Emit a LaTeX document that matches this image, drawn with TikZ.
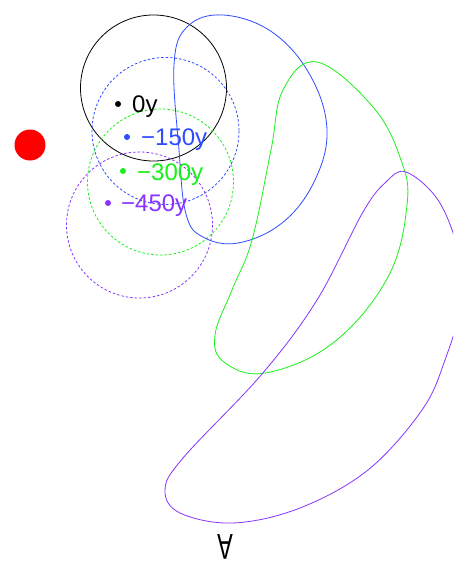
\documentclass[tikz,border=0pt]{standalone}
\usepackage{fontspec}
\setmainfont{Liberation Sans}
\definecolor{cblue}{RGB}{45,75,255}
\definecolor{cgreen}{RGB}{25,240,25}
\definecolor{cpurple}{RGB}{136,51,255}
\begin{document}
\begin{tikzpicture}[x=1pt,y=-1pt,
  orbit/.style={line width=0.8pt},
  halo/.style={line width=0.8pt,dash pattern=on 2.5pt off 2pt},
  dotmark/.style={circle,fill,inner sep=0pt,minimum size=6pt},
  lbl/.style={anchor=base west,inner sep=0pt,font=\fontsize{24}{26}\selectfont}]
\useasboundingbox (0,0) rectangle (453,565);
\clip (0,0) rectangle (453,565);
% circles
\draw[orbit,black] (153.5,88) circle (73);
\draw[halo,cblue] (165.5,131) circle (73.5);
\draw[halo,cgreen] (160.5,182) circle (73);
\draw[halo,cpurple] (139.5,225) circle (73);
% closed curves
\draw[orbit,cblue] plot[smooth cycle,tension=0.65] coordinates {
 (223,15) (272,32) (310,75) (327,130) (314,182) (282,223) (238,243) (203,237) (186,214) (179,150) (174,65) (187,27)};
\draw[orbit,cgreen] plot[smooth cycle,tension=0.65] coordinates {
 (317,62) (373,107) (401,160) (407,205) (388,277) (333,343) (265,373) (224,362) (215,335) (232,290) (252,240) (271,150) (283,90)};
\draw[orbit,cpurple] plot[smooth cycle,tension=0.6] coordinates {
 (406,172) (438,200) (458,250) (462,300) (445,360) (422,410) (368,470) (300,508) (233,523) (180,513) (165,490) (183,458) (262,374) (317,300) (363,212) (386,182)};
% red dot
\node[circle,fill=red,inner sep=0pt,minimum size=31pt] (sun) at (30,145) {};
% dots and labels
\node[dotmark,black] (d0) at (118,104) {};
\node[dotmark,cblue] (d1) at (127,137) {};
\node[dotmark,cgreen] (d2) at (123,171) {};
\node[dotmark,cpurple] (d3) at (108,203) {};
\node[lbl,black] (l0) at (132,112) {0y};
\node[lbl,cblue] (l1) at (141,145) {−150y};
\node[lbl,cgreen] (l2) at (137,180) {−300y};
\node[lbl,cpurple] (l3) at (121,211) {−450y};
% bottom mark
\node[inner sep=0pt,font=\fontsize{36}{38}\selectfont,xscale=0.65] (forall) at (225,547) {\rotatebox{180}{A}};
\end{tikzpicture}
\end{document}
